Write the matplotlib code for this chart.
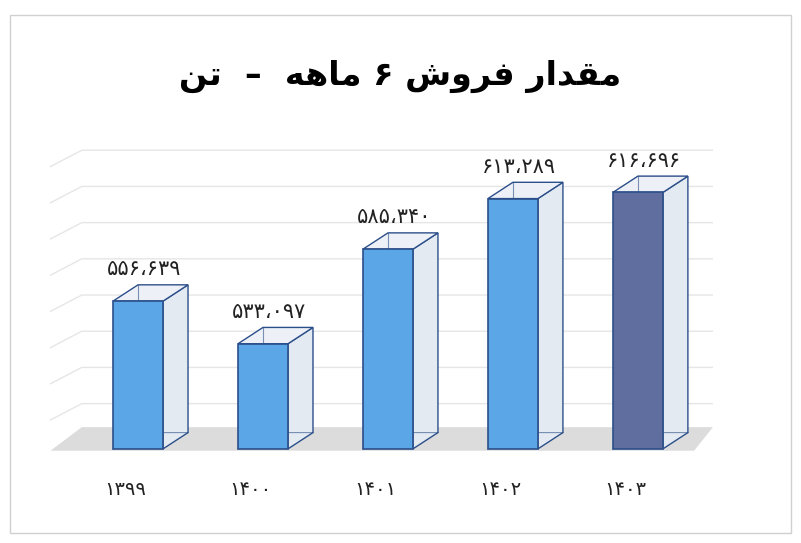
import matplotlib
matplotlib.use("Agg")
import matplotlib.pyplot as plt
from matplotlib.patches import Polygon, Rectangle

categories = ["۱۳۹۹", "۱۴۰۰", "۱۴۰۱", "۱۴۰۲", "۱۴۰۳"]
values = [556639, 533097, 585340, 613289, 616696]
labels = ["۵۵۶،۶۳۹", "۵۳۳،۰۹۷", "۵۸۵،۳۴۰", "۶۱۳،۲۸۹", "۶۱۶،۶۹۶"]
# title in visual order with Arabic presentation forms: "مقدار فروش ۶ ماهه – تن"
title = ("\uFEE6\uFE97  \u2013  \uFEEA\uFEEB\uFE8E\uFEE3 \u06F6 "
         "\uFEB5\uFEED\uFEAE\uFED3 \uFEAD\uFE8D\uFEAA\uFED8\uFEE3")

ymin, ymax, step = 480000, 640000, 20000
fig = plt.figure(figsize=(8.01, 5.43), dpi=100)
fig.patches.append(Rectangle((0.012, 0.018), 0.976, 0.955, transform=fig.transFigure,
                             fill=False, ec="#d0d0d0", lw=1))
ax = fig.add_axes([0.06, 0.17, 0.83, 0.56])
ax.set_xlim(-0.72, 4.6)
ax.set_ylim(ymin - 6000, ymax + 2000)
ax.axis("off")

dx, dy = 0.2, 9000
w = 0.4
# floor
ax.add_patch(Polygon([(-0.7, ymin - 6000), (4.45, ymin - 6000), (4.6, ymin + 7000), (-0.45, ymin + 7000)],
                     closed=True, fc="#dcdcdc", ec="none", zorder=0))
# gridlines
for g in range(ymin + step, ymax + 1, step):
    ax.plot([-0.7, -0.45, 4.6], [g - 9000, g, g], color="#e6e6e6", lw=1, zorder=0)

for i, (v, lab) in enumerate(zip(values, labels)):
    last = i == len(values) - 1
    fc = "#5f6e9f" if last else "#5aa6e6"
    ec = "#2c4f8a"
    x0 = i - w / 2
    b = ymin - 5000
    ax.add_patch(Polygon([(x0 + w, b), (x0 + w + dx, b + dy), (x0 + w + dx, v + dy), (x0 + w, v)],
                         fc="#e4eaf2", ec=ec, lw=1, zorder=2))
    ax.add_patch(Polygon([(x0, v), (x0 + dx, v + dy), (x0 + w + dx, v + dy), (x0 + w, v)],
                         fc="#edf1f7", ec=ec, lw=1, zorder=2))
    ax.plot([x0 + dx, x0 + dx], [b + dy, v + dy], color=ec, lw=0.8, alpha=0.6, zorder=2)
    ax.plot([x0, x0 + dx, x0 + w + dx], [b, b + dy, b + dy], color=ec, lw=0.8, alpha=0.6, zorder=2)
    ax.add_patch(Rectangle((x0, b), w, v - b, fc=fc, ec=ec, lw=1.2, zorder=3))
    ax.text(i + 0.05, v + dy + 3000, lab, ha="center", va="bottom", fontsize=15,
            family=["DejaVu Sans"], color="#222222")
    ax.text(i - 0.1, ymin - 22000, categories[i], ha="center", va="top", fontsize=14,
            family=["DejaVu Sans"], color="#222222")

fig.text(0.5, 0.86, title, ha="center", va="center", fontsize=24, fontweight="bold",
         family=["DejaVu Sans"])
fig.savefig("out.png", dpi=100)
